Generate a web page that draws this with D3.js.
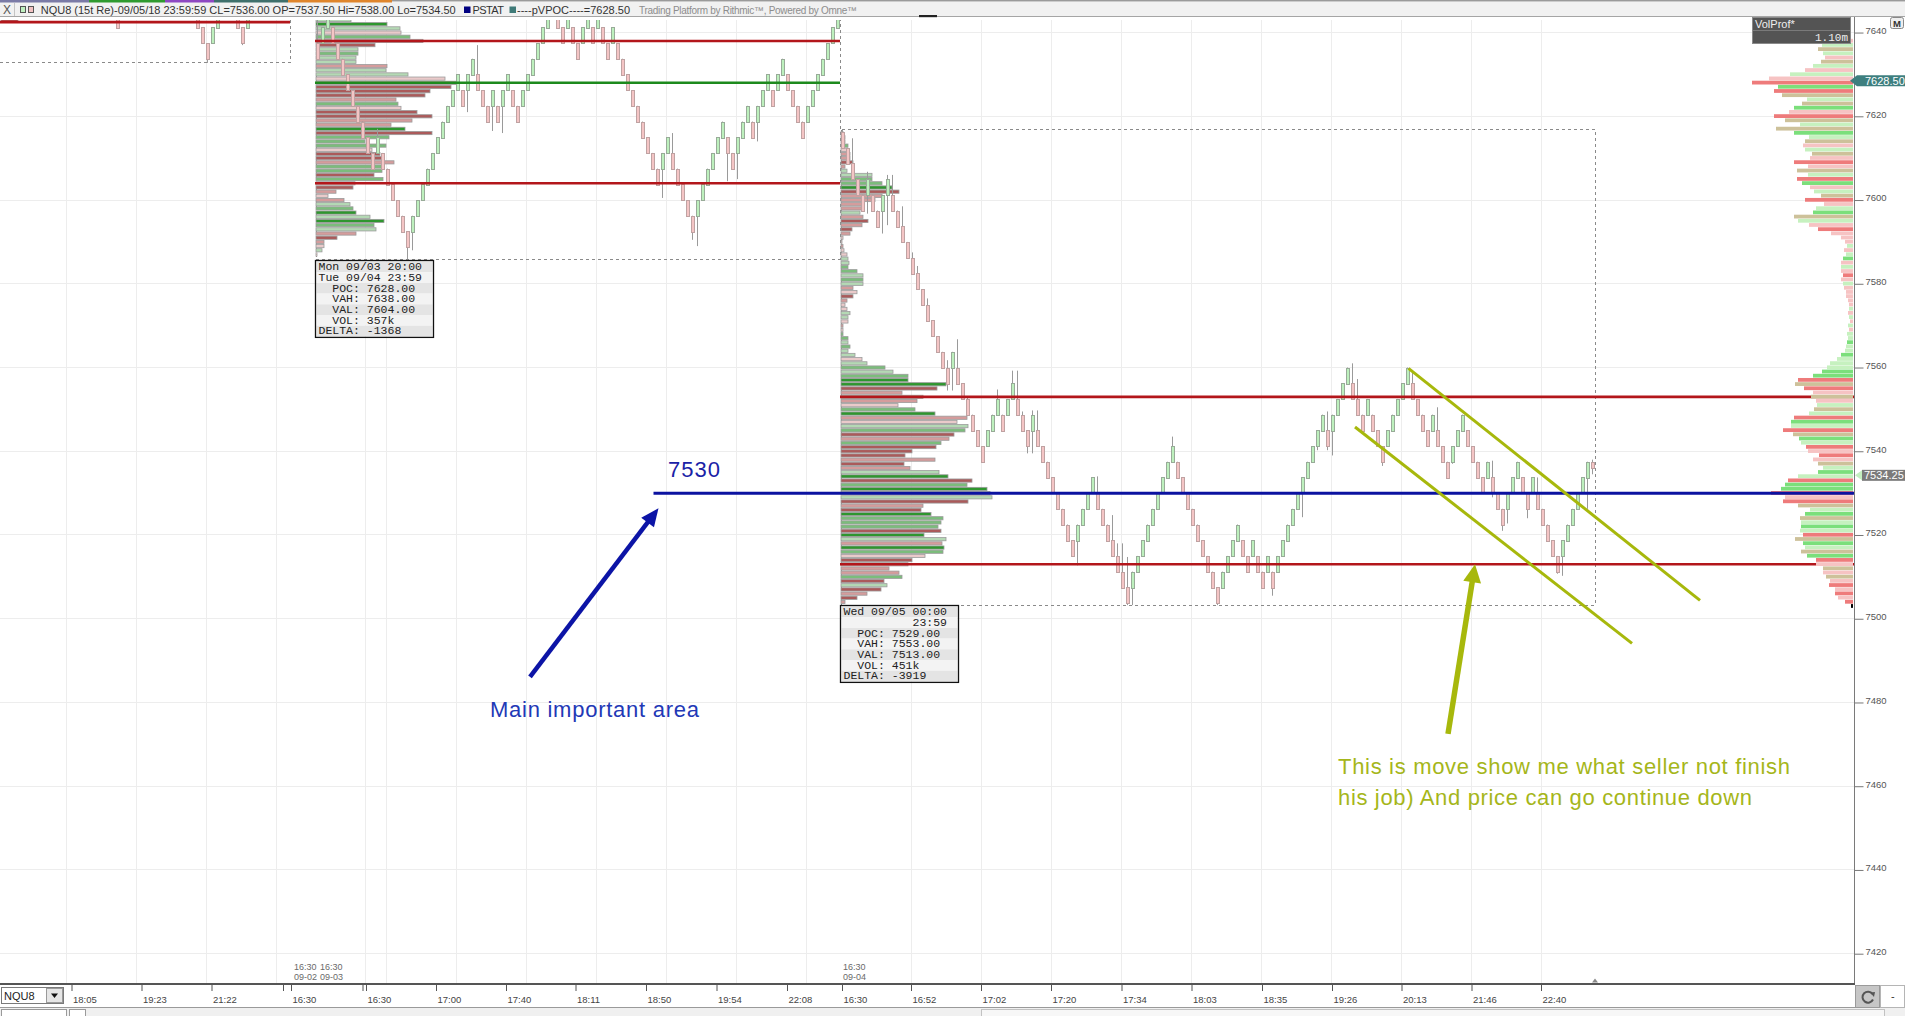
<!DOCTYPE html>
<html><head><meta charset="utf-8">
<script src="https://cdn.jsdelivr.net/npm/d3@7"></script>
<style>
html,body{margin:0;padding:0;background:#fff;overflow:hidden}
svg{display:block}
text{font-family:"Liberation Sans",Arial,sans-serif}
.mono{font-family:"Liberation Mono","Courier New",monospace}
</style></head><body>
<svg id="chart" width="1905" height="1016"></svg>
<script>
// ---------------- data ----------------
const symbol = "NQU8";
const barTime = "09/05/18 23:59:59";
const brick = 3.75;                 // 15-tick renko brick
const pvpoc = 7628.5;
const lastPrice = 7534.25;
const keyLevel = 7530;
const lastBar = {open: 7537.5, close: 7536, high: 7538, low: 7534.5};

// renko closes, one per bar (left session, 09-03 session, 09-04 session)
const closesLeft = [7656.25,7660,7652.5,7648.75,7656.25,7660,7663.75,7656.25,7652.5,7660,
 7652.5,7648.75,7656.25,7648.75,7645,7652.5,7656.25,7648.75,7645,7652.5,
 7645,7652.5,7645,7641.25,7648.75,7652.5,7656.25,7648.75,7645,7652.5,
 7656.25,7660,7652.5,7648.75,7656.25,7648.75,7645,7652.5,7645,7641.25,
 7637.5,7633.75,7641.25,7645,7648.75,7652.5,7645,7641.25,7637.5,7645,
 7648.75,7652.5,7656.25,7648.75,7645,7652.5,7656.25,7660,7652.5,7648.75,
 7645,7652.5,7656.25];
const closes0903 = [7633.75,7641.25,7645,7637.5,7633.75,7630,7626.25,7622.5,7618.75,7615,
 7611.25,7607.5,7615,7607.5,7603.75,7600,7596.25,7592.5,7588.75,7596.25,
 7600,7603.75,7607.5,7611.25,7615,7618.75,7622.5,7626.25,7630,7622.5,
 7630,7633.75,7626.25,7622.5,7618.75,7626.25,7618.75,7626.25,7630,7622.5,
 7618.75,7626.25,7630,7633.75,7637.5,7641.25,7645,7648.75,7641.25,7637.5,
 7645,7637.5,7633.75,7641.25,7645,7637.5,7645,7637.5,7633.75,7641.25,
 7633.75,7630,7626.25,7622.5,7618.75,7615,7611.25,7607.5,7603.75,7611.25,
 7615,7607.5,7603.75,7600,7596.25,7592.5,7600,7603.75,7607.5,7611.25,
 7615,7618.75,7611.25,7607.5,7615,7618.75,7622.5,7615,7622.5,7626.25,
 7630,7622.5,7630,7633.75,7626.25,7622.5,7618.75,7615,7622.5,7626.25,
 7630,7633.75,7637.5,7641.25,7645];
const closes0904 = [7612.5,7608.75,7605,7601.25,7597.5,7605,7597.5,7593.75,7601.25,7605,
 7597.5,7593.75,7590,7586.25,7582.5,7578.75,7575,7571.25,7567.5,7563.75,
 7560,7556.25,7563.75,7556.25,7552.5,7548.75,7545,7541.25,7537.5,7545,
 7548.75,7552.5,7545,7552.5,7556.25,7548.75,7545,7541.25,7548.75,7541.25,
 7537.5,7533.75,7530,7526.25,7522.5,7518.75,7515,7522.5,7526.25,7530,
 7533.75,7526.25,7522.5,7518.75,7515,7511.25,7507.5,7503.75,7511.25,7515,
 7518.75,7522.5,7526.25,7530,7533.75,7537.5,7541.25,7533.75,7530,7526.25,
 7522.5,7518.75,7515,7511.25,7507.5,7503.75,7511.25,7515,7518.75,7522.5,
 7515,7511.25,7518.75,7511.25,7507.5,7515,7507.5,7515,7518.75,7522.5,
 7526.25,7530,7533.75,7537.5,7541.25,7545,7548.75,7541.25,7548.75,7552.5,
 7556.25,7560,7552.5,7548.75,7545,7552.5,7545,7541.25,7537.5,7545,
 7548.75,7552.5,7556.25,7560,7552.5,7548.75,7545,7541.25,7548.75,7541.25,
 7537.5,7533.75,7541.25,7545,7548.75,7541.25,7537.5,7533.75,7530,7537.5,
 7530,7526.25,7522.5,7530,7533.75,7537.5,7530,7526.25,7533.75,7526.25,
 7522.5,7518.75,7515,7511.25,7518.75,7522.5,7526.25,7530,7533.75,7537.5];

// wick extremes beyond the brick body: [bar index, price]
const wickHigh = [[63,7643],[75,7617],[95,7637],[134,7616],
 [168,7616.75],[170,7614.75],[173,7606.75],[177,7606],[178,7606],[180,7598.5],[182,7587.5],[183,7584.25],
 [185,7576.5],[189,7561.75],[191,7566.75],[193,7553],[199,7554.75],[202,7559.25],[203,7559.25],[204,7549.5],
 [206,7549.75],[207,7549.75],[219,7534],[222,7524.75],[223,7518],[224,7518],[225,7514.75],[234,7543.5],
 [265,7549.5],[270,7561],[271,7557.25],[282,7559.25],[287,7550.5],[298,7537.75],[307,7533.75]];
const wickLow = [[41,7632.75],[48,7637],
 [81,7585.75],[82,7588],[93,7621],[98,7616.5],[100,7616],[132,7600.5],[138,7590.5],[139,7589],[145,7604.5],[147,7605],[151,7614],
 [173,7596.75],[176,7592],[177,7594],[189,7554.5],[190,7554.5],[205,7539.5],[206,7539.5],[215,7512.75],[225,7503.25],
 [226,7503.25],[243,7503.25],[254,7505.5],[260,7524.25],[263,7540.25],[265,7540.25],[266,7539],[276,7536.5],[290,7537],
 [298,7529],[300,7521],[301,7522.75],[305,7524],[311,7510.75],[312,7510.25],[317,7526.25]];

// session statistics
const sessions = [
  {first: 0, last: 57, low: 7632.75, val: 7642.5},
  {first: 63, last: 167, low: 7585.75, poc: 7628, vah: 7638, val: 7604, vol: "357k", delta: -1368,
   from: "Mon 09/03 20:00", to: "Tue 09/04 23:59"},
  {first: 168, last: 318, high: 7616.75, low: 7503.25, poc: 7529, vah: 7553, val: 7513, vol: "451k", delta: -3919,
   from: "Wed 09/05 00:00", to: "23:59"}
];

// session volume profiles: one row per point from the top price down (relative volume + delta class)
const profileTop = [7643, 7643, 7616];
const vol0902 = [17];
const cls0902 = "R";
const vol0903 = [35,71,84,85,94,107,59,42,42,40,40,71,70,92,129,142,135,114,109,80,
 82,85,101,116,96,75,89,116,73,49,70,56,64,66,78,67,66,58,67,39,
 37,20,12,28,34,37,40,54,68,58,60,40,21,8,8,6,1];
const cls0903 = "LGLQMPRLMLLPLLQPRRRPMQRRPPGRMMMQRRPMMRMQRPQPLMGLGMLPRPQLQ";
const vol0904 = [2,4,4,7,6,9,9,12,4,6, 31,31,41,51,58,41,34,21,21,19,
 22,27,21,11,9,2,1,2,3,6, 7,8,7,16,22,22,22,12,16,12,
 6,4,6,9,7,7,2,2,2,7, 7,9,7,14,21,26,44,52,67,67,
 105,96,61,82,76,57,74,94,126,116, 127,124,113,108,100,95,71,64,94,63,
 69,98,107,131,126,146,149,151,127,82, 80,90,102,100,97,100,83,105,101,103,
 102,84,71,67,48,58,61,43,46,40, 26,16,4];
const cls0904 = "PQLMQPPRPLLMMGRPPPPLPRPRPQQPQQLLMMLMLPQRPQQLLQPQMMLMLLQLMLMGGRPLPQMGPQLMRPMRRRPRPLGRMGLLRPRGMMMRGLPGMQRPPPMRLRPRP";

// composite volume profile (VolProf, 1.10m), one row per point from 7638 down
const compTop = 7638;
const compTotal = "1.10m";
const volComp = [38,31,35,30,28,32,40,48,63,84, 101,75,79,71,46,51,59,64,79,68,
 53,77,59,44,48,50,48,41,43,59, 45,56,45,56,51,43,39,32,48,29,
 37,40,59,55,44,35,22,12,8,6, 9,7,10,12,12,12,10,12,10,9,
 7,7,5,4,4,5,4,3,5,4, 6,5,6,7,8,12,16,23,26,31,
 40,55,58,49,40,42,37,36,39,44, 59,62,62,70,60,54,52,47,45,34,
 40,35,30,35,55,65,68,72,82,68, 70,55,43,48,53,52,52,53,50,58,
 50,48,52,46,37,37,30,30,27,23, 24,18,18,15,8,2];
const clsComp = "pltlptlplprgrtltgprtltgltpltprptlrgpltrplgtlprppplplgplprplppppplplplpllgllglllggrtrptpltlrglrtglrprptlglrggrprtlgtlglrtgltgrptptprprpr";

// axes
const priceTicks = [7420,7440,7460,7480,7500,7520,7540,7560,7580,7600,7620,7640];
const tickIdx = [13.8,27.8,41.8,56.1,57.7,72.0,72.7,86.7,100.7,114.6,128.7,142.8,156.9,
 167.9,181.7,195.7,209.7,223.8,237.8,251.9,265.9,279.8,293.8,307.7];
const tickLabels = ["18:05","19:23","21:22","","16:30","","16:30","17:00","17:40","18:11","18:50","19:54","22:08",
 "16:30","16:52","17:02","17:20","17:34","18:03","18:35","19:26","20:13","21:46","22:40"];
const gridIdx = [12.8,26.8,40.8,54.8,72.6,76.8,90.8,104.8,118.8,132.8,146.8,160.8,
 181.8,195.8,209.8,223.8,237.8,251.8,265.8,279.8,293.8,307.8];
const dateIdx = [58.3, 63.5, 168.1];
const dateTimes = ["16:30","16:30","16:30"];
const dateDays = ["09-02","09-03","09-04"];

// notes drawn on the chart
const mainLabel = "Main important area";
const noteLines = ["This is move show me what seller not finish", "his job) And price can go continue down"];

// ---------------- layout ----------------
const svg = d3.select("#chart");
const PR = 1854;          // right edge of plot / price axis
const PT = 20, PB = 983;  // plot top / bottom
const y = d3.scaleLinear().domain([7413, 7643]).range([PB, PT]);
const x = d3.scaleLinear().domain([0, 318]).range([2.5, 1592.5]);
const len = d3.scaleLinear().domain([0, 100]).range([0, 100]);
const fmt2 = d => d.toFixed(2);

svg.append("defs").append("clipPath").attr("id", "plotClip")
  .append("rect").attr("x", 0).attr("y", PT).attr("width", PR).attr("height", PB - PT);
const plot = svg.append("g").attr("clip-path", "url(#plotClip)");

// grid
const grid = plot.append("g").attr("stroke", "#ededed").attr("shape-rendering", "crispEdges");
grid.selectAll(null).data(priceTicks).join("line")
  .attr("x1", 0).attr("x2", PR).attr("y1", d => y(d)).attr("y2", d => y(d));
grid.selectAll(null).data(gridIdx).join("line")
  .attr("x1", d => x(d)).attr("x2", d => x(d)).attr("y1", PT).attr("y2", PB);

// session range boxes (dashed)
const boxes = plot.append("g").attr("fill", "none").attr("stroke", "#8a8a8a")
  .attr("stroke-dasharray", "3,3").attr("shape-rendering", "crispEdges");
{
  const s0 = sessions[0], s1 = sessions[1], s2 = sessions[2];
  boxes.append("path").attr("d", `M${x(s0.last + 0.5)},${PT}V${y(s0.low)}H0`);
  boxes.append("path").attr("d", `M${x(s1.first - 0.5) + 1},${PT}V${y(s1.low)}H${x(s1.last + 0.5)}V${PT}`);
  boxes.append("rect").attr("x", x(s2.first - 0.5) + 1.5).attr("y", y(s2.high))
    .attr("width", x(s2.last + 0.5) - x(s2.first - 0.5) - 1.5).attr("height", y(s2.low) - y(s2.high));
}

// session volume profiles
const profCol = {G: "#2e962e", M: "#7bbd7b", L: "#b4d9b4", R: "#ab5a5a", P: "#d59c9c", Q: "#eacaca"};
const profGroup = plot.append("g").attr("stroke", "#9c9c9c").attr("stroke-width", 0.8);
[[vol0902, cls0902], [vol0903, cls0903], [vol0904, cls0904]].forEach(([vols, cls], si) => {
  const s = sessions[si], top = profileTop[si];
  const x0 = Math.max(0, x(s.first - 0.5)) + 1;
  profGroup.append("g").selectAll(null).data(vols).join("rect")
    .attr("x", x0).attr("y", (v, k) => y(top - k) - 1.6)
    .attr("width", v => len(v)).attr("height", 3.2)
    .attr("fill", (v, k) => profCol[cls[k]]);
});

// renko bars
const closes = closesLeft.concat(closes0903, closes0904);
const bars = closes.map((c, g) => {
  const prev = g === 0 ? c - brick : closes[g - 1];
  const up = c > prev;
  const open = up ? c - brick : c + brick;
  return {g, open, close: c, up, high: Math.max(open, c), low: Math.min(open, c)};
});
bars.push({g: bars.length, open: lastBar.open, close: lastBar.close, up: lastBar.close > lastBar.open,
  high: lastBar.high, low: lastBar.low});
wickHigh.forEach(([g, p]) => { bars[g].high = Math.max(bars[g].high, p); });
wickLow.forEach(([g, p]) => { bars[g].low = Math.min(bars[g].low, p); });

const candles = plot.append("g");
candles.append("g").attr("stroke", "#9a9a9a").attr("stroke-width", 1)
  .selectAll(null).data(bars).join("line")
  .attr("x1", d => x(d.g)).attr("x2", d => x(d.g))
  .attr("y1", d => y(d.high)).attr("y2", d => y(d.low));
candles.append("g").selectAll(null).data(bars).join("rect")
  .attr("x", d => x(d.g) - 1).attr("width", 3)
  .attr("y", d => Math.round(y(Math.max(d.open, d.close))) + 0.5)
  .attr("height", d => Math.max(1, Math.round(y(Math.min(d.open, d.close)) - y(Math.max(d.open, d.close)))))
  .attr("fill", d => d.up ? "#bdf0bd" : "#f4c5c5")
  .attr("stroke", d => d.up ? "#98ab98" : "#bfa2a2").attr("stroke-width", 1);

// value area / POC lines
const lvl = plot.append("g").attr("stroke-width", 2.6);
{
  const s0 = sessions[0], s1 = sessions[1], s2 = sessions[2];
  const hl = (v, x1, x2, c) => lvl.append("line").attr("x1", x1).attr("x2", x2)
    .attr("y1", y(v)).attr("y2", y(v)).attr("stroke", c);
  hl(s0.val, 0, x(s0.last + 0.5), "#b3161b");
  const a = x(s1.first - 0.5), b = x(s1.last + 0.5);
  hl(s1.vah, a, b, "#b3161b"); hl(s1.poc, a, b, "#1d8a1d"); hl(s1.val, a, b, "#b3161b");
  const c = x(s2.first - 0.5);
  hl(s2.vah, c, PR, "#b3161b"); hl(s2.val, c, PR, "#b3161b");
}

// composite profile on the right edge
const compCol = {g: "#7bdf7b", l: "#c6f1bf", r: "#ee7b7b", p: "#f6c3c3", t: "#cdc19a"};
const rowH = y(7500) - y(7501);
plot.append("g").selectAll(null).data(volComp).join("rect")
  .attr("x", v => PR - 1 - len(v)).attr("y", (v, k) => y(compTop - k + 0.5))
  .attr("width", v => len(v)).attr("height", rowH - 0.4)
  .attr("fill", (v, k) => compCol[clsComp[k]]);

// key level and notes
const notes = svg.append("g");
const P = (g, p) => [x(g), y(p)];
function arrow(from, to, color, w, headLen, headW) {
  const [x1, y1] = from, [x2, y2] = to;
  const a = Math.atan2(y2 - y1, x2 - x1);
  const bx = x2 - headLen * Math.cos(a), by = y2 - headLen * Math.sin(a);
  notes.append("line").attr("x1", x1).attr("y1", y1)
    .attr("x2", bx + 2 * Math.cos(a)).attr("y2", by + 2 * Math.sin(a))
    .attr("stroke", color).attr("stroke-width", w);
  const px = -Math.sin(a) * headW, py = Math.cos(a) * headW;
  notes.append("path").attr("d", `M${x2},${y2}L${bx + px},${by + py}L${bx - px},${by - py}Z`).attr("fill", color);
}
notes.append("line").attr("x1", x(130.2)).attr("x2", PR + 1)
  .attr("y1", y(keyLevel)).attr("y2", y(keyLevel)).attr("stroke", "#0b12a0").attr("stroke-width", 3);
notes.append("text").attr("x", x(133.1)).attr("y", y(keyLevel) - 16)
  .attr("font-size", 22).attr("fill", "#1a22a6").attr("textLength", 52).text(String(keyLevel));
arrow(P(105.5, 7486.1), P(131.2, 7526.4), "#0c14a6", 4.5, 18, 8);
notes.append("text").attr("x", x(97.5)).attr("y", y(7476.6))
  .attr("font-size", 22).attr("fill", "#2238b6").attr("textLength", 209).text(mainLabel);

const olive = "#a7b80c";
[[P(281.2, 7559.8), P(339.5, 7504.4)], [P(270.5, 7545.8), P(325.9, 7494.1)]].forEach(([a, b]) => {
  notes.append("line").attr("x1", a[0]).attr("y1", a[1]).attr("x2", b[0]).attr("y2", b[1])
    .attr("stroke", olive).attr("stroke-width", 3);
});
arrow(P(289.1, 7472.5), P(294.5, sessions[2].val), olive, 5.5, 18, 9);
noteLines.forEach((t, i) => {
  notes.append("text").attr("x", x(267.1)).attr("y", y([7463, 7455.6][i]))
    .attr("font-size", 22).attr("fill", "#a5b61a").attr("textLength", [452, 414][i]).text(t);
});

// session info boxes
function infoBox(s) {
  const x0 = x(s.first - 0.5) + 0.5, y0 = Math.round(y(s.low)) + 0.5;
  const nb = "\u00a0";
  const lines = [s.from, s.to.padStart(15, nb), `${nb}${nb}POC: ${fmt2(s.poc)}`, `${nb}${nb}VAH: ${fmt2(s.vah)}`,
    `${nb}${nb}VAL: ${fmt2(s.val)}`, `${nb}${nb}VOL: ${s.vol}`, `DELTA: ${s.delta}`];
  const g = svg.append("g");
  const rh = 10.7;
  g.selectAll(null).data(lines).join("rect")
    .attr("x", x0 + 1).attr("y", (d, i) => y0 + 1 + i * rh).attr("width", 116).attr("height", rh)
    .attr("fill", (d, i) => i % 2 ? "#f3f3f3" : "#e4e4e4");
  g.append("rect").attr("x", x0).attr("y", y0).attr("width", 118).attr("height", rh * 7 + 2)
    .attr("fill", "none").attr("stroke", "#111").attr("stroke-width", 1.3);
  g.selectAll(null).data(lines).join("text").attr("class", "mono")
    .attr("x", x0 + 3).attr("y", (d, i) => y0 + 1 + i * rh + 8.6)
    .attr("font-size", 11.5).attr("fill", "#222").text(d => d);
}
infoBox(sessions[1]);
infoBox(sessions[2]);

// session date stamps above the time axis
const stamps = svg.append("g").attr("font-size", 9).attr("fill", "#6a6a6a");
dateIdx.forEach((g, i) => {
  stamps.append("text").attr("x", x(g)).attr("y", 970).text(dateTimes[i]);
  stamps.append("text").attr("x", x(g)).attr("y", 980).text(dateDays[i]);
});

// ---------------- frame: header, axes ----------------
// header bar
const hdr = svg.append("g");
hdr.append("rect").attr("x", 0).attr("y", 2).attr("width", 1905).attr("height", 15).attr("fill", "#f1f1f1");
hdr.append("line").attr("x1", 0).attr("x2", 1905).attr("y1", 16.5).attr("y2", 16.5).attr("stroke", "#a5a5a5");
[[0, 89, "#7a7aa6"], [89, 165, "#2f9a2f"], [165, 214, "#8d48c2"], [214, 288, "#3f706c"], [288, 392, "#df852c"], [392, 1905, "#9a9a9a"]]
  .forEach(([a, b, c]) => hdr.append("rect").attr("x", a).attr("y", 0).attr("width", b - a)
    .attr("height", c === "#9a9a9a" ? 1.5 : 2.5).attr("fill", c));
hdr.append("text").attr("x", 3).attr("y", 14).attr("font-size", 12).attr("fill", "#555").text("X");
hdr.append("line").attr("x1", 14.5).attr("x2", 14.5).attr("y1", 3).attr("y2", 16).attr("stroke", "#c4c4c4");
hdr.append("rect").attr("x", 20.5).attr("y", 6.5).attr("width", 5).attr("height", 6).attr("fill", "#bff0bf").attr("stroke", "#555");
hdr.append("rect").attr("x", 28.5).attr("y", 6.5).attr("width", 5).attr("height", 6).attr("fill", "#f2c2c2").attr("stroke", "#555");
hdr.append("text").attr("x", 40.7).attr("y", 14).attr("font-size", 11).attr("fill", "#333").attr("textLength", 415)
  .text(`${symbol} (15t Re)-${barTime} CL=${fmt2(lastBar.close)} OP=${fmt2(lastBar.open)} Hi=${fmt2(lastBar.high)} Lo=${fmt2(lastBar.low)}`);
hdr.append("rect").attr("x", 464).attr("y", 6.5).attr("width", 6.5).attr("height", 6.5).attr("fill", "#000080");
hdr.append("text").attr("x", 472.5).attr("y", 14).attr("font-size", 11).attr("fill", "#333").attr("textLength", 31.5).text("PSTAT");
hdr.append("rect").attr("x", 509.5).attr("y", 6.5).attr("width", 6.5).attr("height", 6.5).attr("fill", "#3f7a78");
hdr.append("text").attr("x", 517).attr("y", 14).attr("font-size", 11).attr("fill", "#333").attr("textLength", 113)
  .text(`----pVPOC----=${fmt2(pvpoc)}`);
hdr.append("text").attr("x", 639).attr("y", 13.5).attr("font-size", 10).attr("fill", "#8d8d8d").attr("textLength", 218)
  .text("Trading Platform by Rithmic\u2122, Powered by Omne\u2122");
hdr.append("rect").attr("x", 919).attr("y", 15).attr("width", 18).attr("height", 2.2).attr("fill", "#222");

// VolProf caption
const vp = svg.append("g");
vp.append("rect").attr("x", 1752.5).attr("y", 17.5).attr("width", 98).attr("height", 26).attr("fill", "#545454").attr("stroke", "#8a8a8a");
vp.append("line").attr("x1", 1753).attr("x2", 1850).attr("y1", 30.5).attr("y2", 30.5).attr("stroke", "#7a7a7a");
vp.append("text").attr("x", 1755).attr("y", 27.5).attr("font-size", 11).attr("fill", "#eee").text("VolProf*");
vp.append("text").attr("class", "mono").attr("x", 1848).attr("y", 41).attr("text-anchor", "end")
  .attr("font-size", 11).attr("fill", "#eee").text(compTotal);
vp.append("rect").attr("x", 1890.5).attr("y", 17.5).attr("width", 13).attr("height", 11).attr("rx", 2)
  .attr("fill", "#eee").attr("stroke", "#888");
vp.append("text").attr("x", 1897).attr("y", 26.5).attr("text-anchor", "middle").attr("font-size", 9.5)
  .attr("font-weight", "bold").attr("fill", "#333").text("M");

// price axis
const yAxisG = svg.append("g").attr("transform", `translate(${PR + 0.5},0)`);
yAxisG.call(d3.axisRight(y).tickValues(d3.range(7415, 7643, 5)).tickSize(4).tickFormat(""))
  .call(g => g.select(".domain").remove());
yAxisG.call(d3.axisRight(y).tickValues(priceTicks).tickSize(9).tickPadding(2).tickFormat(d3.format("d")))
  .call(g => g.select(".domain").remove());
yAxisG.selectAll("line").attr("stroke", "#777");
yAxisG.selectAll("text").attr("font-family", "Liberation Sans, Arial, sans-serif")
  .attr("font-size", 9.5).attr("fill", "#555").attr("dy", "0.1em");
svg.append("line").attr("x1", PR + 0.5).attr("x2", PR + 0.5).attr("y1", 17).attr("y2", 985).attr("stroke", "#7a7a7a");

// current price markers
{
  const yp = y(pvpoc);
  svg.append("path").attr("d", `M1850,${yp}L1857,${yp - 5.5}H1905V${yp + 5.5}H1857Z`).attr("fill", "#3e7f7f");
  svg.append("text").attr("x", 1865).attr("y", yp + 4).attr("font-size", 11).attr("fill", "#fff").text(fmt2(pvpoc));
  const yl = y(lastPrice);
  svg.append("path").attr("d", `M1855,${yl}L1862,${yl - 5}V${yl + 5}Z`).attr("fill", "#c4efc0");
  svg.append("rect").attr("x", 1862).attr("y", yl - 5.5).attr("width", 43).attr("height", 11).attr("fill", "#7b7b7b");
  svg.append("text").attr("x", 1864).attr("y", yl + 4).attr("font-size", 11).attr("fill", "#fff").text(fmt2(lastPrice));
}

// time axis
svg.append("rect").attr("x", 0).attr("y", 983).attr("width", PR + 1).attr("height", 2).attr("fill", "#555");
const xAxisG = svg.append("g").attr("transform", "translate(0,985)");
xAxisG.call(d3.axisBottom(x).tickValues(tickIdx).tickSize(6).tickFormat((d, i) => tickLabels[i]))
  .call(g => g.select(".domain").remove());
xAxisG.selectAll("line").attr("stroke", "#555");
xAxisG.selectAll("text").attr("font-family", "Liberation Sans, Arial, sans-serif").attr("font-size", 9.5)
  .attr("fill", "#444").attr("text-anchor", "start").attr("x", 1).attr("dy", null).attr("y", 18);
svg.append("path").attr("d", `M${x(318.5) - 3},982.5L${x(318.5)},978.5L${x(318.5) + 3},982.5Z`).attr("fill", "#8a8a8a");

// bottom controls
const bt = svg.append("g");
bt.append("rect").attr("x", 0).attr("y", 985).attr("width", 66).attr("height", 22).attr("fill", "#fff");
bt.append("rect").attr("x", 1.5).attr("y", 987.5).attr("width", 62).attr("height", 16).attr("fill", "#fff").attr("stroke", "#7a7a7a");
bt.append("text").attr("x", 4).attr("y", 1000).attr("font-size", 11).attr("fill", "#222").text(symbol);
bt.append("rect").attr("x", 46.5).attr("y", 988.5).attr("width", 16).attr("height", 14).attr("fill", "#e6e6e6").attr("stroke", "#9a9a9a");
bt.append("path").attr("d", "M51,993.5H58L54.5,998Z").attr("fill", "#111");
bt.append("line").attr("x1", 0).attr("x2", 1905).attr("y1", 1007.5).attr("y2", 1007.5).attr("stroke", "#9a9a9a");
bt.append("rect").attr("x", 0).attr("y", 1008).attr("width", 1905).attr("height", 8).attr("fill", "#f0f0f0");
bt.append("rect").attr("x", 1.5).attr("y", 1009.5).attr("width", 65).attr("height", 8).attr("fill", "#fff").attr("stroke", "#9a9a9a");
bt.append("rect").attr("x", 69.5).attr("y", 1009.5).attr("width", 16).attr("height", 8).attr("fill", "#fff").attr("stroke", "#9a9a9a");
bt.append("rect").attr("x", 981.5).attr("y", 1009.5).attr("width", 903).attr("height", 8).attr("fill", "#f7f7f7").attr("stroke", "#c2c2c2");
bt.append("rect").attr("x", 1855.5).attr("y", 985.5).attr("width", 24).attr("height", 22).attr("fill", "#c6c6c6").attr("stroke", "#9a9a9a");
bt.append("path").attr("d", "M1872.5,994A5.5,5.5 0 1 0 1873,999.5").attr("fill", "none").attr("stroke", "#555").attr("stroke-width", 2);
bt.append("path").attr("d", "M1870,992.5L1875,992L1874,997Z").attr("fill", "#555");
bt.append("rect").attr("x", 1880.5).attr("y", 985.5).attr("width", 24).attr("height", 22).attr("fill", "#fff").attr("stroke", "#b5b5b5");
bt.append("text").attr("x", 1891).attr("y", 1000).attr("font-size", 11).attr("fill", "#333").text("-");
</script>
</body></html>
